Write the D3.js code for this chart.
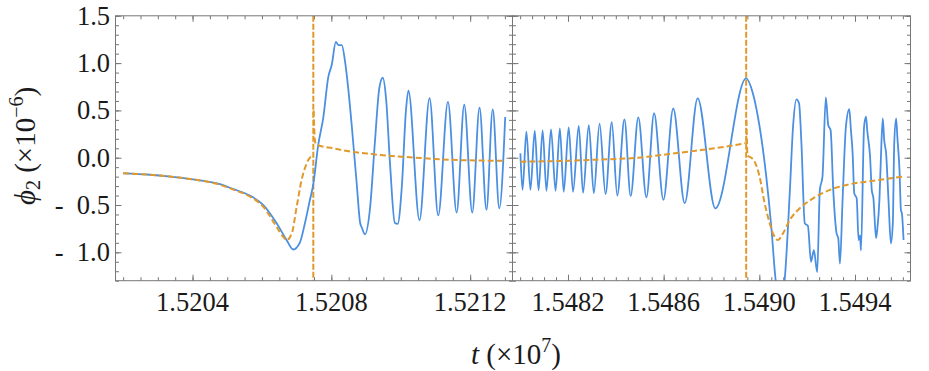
<!DOCTYPE html>
<html>
<head>
<meta charset="utf-8">
<script src="https://cdn.jsdelivr.net/npm/d3@7"></script>
<style>
  body { margin: 0; background: #fff; }
  svg text { font-family: 'Liberation Serif', 'DejaVu Serif', serif; }
</style>
</head>
<body>
<div id="wrapper"></div>
<script>
// time in units of 1e7, phi_2 in units of 1e-6
const blueLeft = [
  [1.520200, -0.165], [1.520277, -0.180], [1.520349, -0.205], [1.520421, -0.240],
  [1.520479, -0.280], [1.520516, -0.330], [1.520565, -0.400], [1.520604, -0.500],
  [1.520642, -0.690], [1.520671, -0.870], [1.520690, -0.970], [1.520709, -0.900],
  [1.520724, -0.690], [1.520738, -0.450], [1.520748, -0.280], [1.520762, 0.130],
  [1.520777, 0.430], [1.520791, 0.850], [1.520801, 0.980], [1.520813, 1.225],
  [1.520820, 1.190], [1.520830, 1.190], [1.520839, 1.030], [1.520849, 0.720],
  [1.520859, 0.330], [1.520873, -0.270], [1.520883, -0.690], [1.520888, -0.740],
  [1.520897, -0.810], [1.520911, -0.550], [1.520926, 0.190], [1.520938, 0.730],
  [1.520948, 0.845], [1.520958, 0.610], [1.520969, -0.060], [1.520983, -0.690],
  [1.520991, -0.700], [1.521003, -0.310], [1.521015, 0.500], [1.521022, 0.710],
  [1.521054, -0.660], [1.521083, 0.630], [1.521108, -0.610], [1.521136, 0.590],
  [1.521161, -0.580], [1.521183, 0.560], [1.521206, -0.580], [1.521227, 0.530],
  [1.521247, -0.550], [1.521265, 0.510], [1.521284, -0.535], [1.521301, 0.430]
]

const orangeLeftPre = [
  [1.520200, -0.165], [1.520277, -0.180], [1.520349, -0.205], [1.520421, -0.240],
  [1.520479, -0.285], [1.520516, -0.335], [1.520565, -0.410], [1.520604, -0.520],
  [1.520642, -0.730], [1.520660, -0.830], [1.520671, -0.870], [1.520686, -0.800],
  [1.520700, -0.520], [1.520714, -0.240], [1.520729, -0.060], [1.520738, 0.000],
  [1.520743, 0.010], [1.520747, 0.010]
]

const orangeLeftPost = [
  [1.520749, 0.500], [1.520753, 0.170], [1.520758, 0.135], [1.520806, 0.100],
  [1.520854, 0.065], [1.520902, 0.045], [1.520950, 0.025], [1.521027, 0.005],
  [1.521142, -0.022], [1.521229, -0.030], [1.521301, -0.033]
]

const blueRight = [
  [1.548001, 0.046], [1.548010, -0.340], [1.548026, 0.275], [1.548043, -0.340],
  [1.548061, 0.285], [1.548077, -0.345], [1.548094, 0.290], [1.548110, -0.350],
  [1.548129, 0.300], [1.548148, -0.350], [1.548166, 0.310], [1.548182, -0.360],
  [1.548203, 0.320], [1.548221, -0.360], [1.548245, 0.335], [1.548263, -0.370],
  [1.548287, 0.345], [1.548308, -0.375], [1.548332, 0.360], [1.548357, -0.385],
  [1.548383, 0.375], [1.548406, -0.400], [1.548436, 0.405], [1.548462, -0.405],
  [1.548494, 0.427], [1.548528, -0.420], [1.548560, 0.470], [1.548599, -0.445],
  [1.548640, 0.520], [1.548688, -0.480], [1.548742, 0.628], [1.548816, -0.535],
  [1.548945, 0.839], [1.548972, 0.690], [1.549001, 0.330], [1.549029, -0.200],
  [1.549050, -0.730], [1.549068, -1.290], [1.549087, -1.550], [1.549106, -1.290],
  [1.549127, -0.380], [1.549141, 0.330], [1.549155, 0.617], [1.549166, 0.575],
  [1.549176, 0.152], [1.549190, -0.694], [1.549203, -0.720], [1.549216, -1.100],
  [1.549228, -0.976], [1.549242, -1.210], [1.549253, -0.340], [1.549264, -0.200],
  [1.549278, 0.638], [1.549288, 0.345], [1.549298, 0.290], [1.549309, -0.340],
  [1.549323, -0.800], [1.549330, -0.850], [1.549337, -1.120], [1.549348, -0.447],
  [1.549362, 0.330], [1.549376, 0.512], [1.549383, 0.290], [1.549390, 0.050],
  [1.549397, -0.377], [1.549407, -0.430], [1.549415, -0.870], [1.549421, -0.820],
  [1.549425, -0.980], [1.549438, 0.330], [1.549446, 0.433], [1.549451, 0.290],
  [1.549463, 0.010], [1.549470, -0.340], [1.549477, -0.430], [1.549488, -0.850],
  [1.549493, -0.760], [1.549502, -0.450], [1.549508, -0.020], [1.549516, 0.416],
  [1.549522, 0.187], [1.549530, 0.046], [1.549540, -0.447], [1.549550, -0.905],
  [1.549558, -0.694], [1.549564, 0.150], [1.549572, 0.416], [1.549577, 0.220],
  [1.549586, -0.130], [1.549592, -0.553], [1.549596, -0.588], [1.549603, -0.870]
]

const orangeRightPre = [
  [1.548001, -0.042], [1.548161, -0.035], [1.548329, -0.020], [1.548494, 0.000],
  [1.548595, 0.030], [1.548735, 0.074], [1.548875, 0.124], [1.548938, 0.152],
  [1.548943, 0.155]
]

const orangeRightPost = [
  [1.548946, 0.400], [1.548951, 0.020], [1.548959, 0.010], [1.548980, -0.040],
  [1.549001, -0.200], [1.549022, -0.480], [1.549043, -0.690], [1.549057, -0.800],
  [1.549078, -0.870], [1.549099, -0.800], [1.549127, -0.660], [1.549169, -0.535],
  [1.549225, -0.430], [1.549295, -0.340], [1.549379, -0.280], [1.549477, -0.243],
  [1.549603, -0.200]
]

const mergerTimes = [1.520748, 1.548945]
const xTicksLeft = [1.5204, 1.5208, 1.5212]
const xTicksRight = [1.5482, 1.5486, 1.549, 1.5494]
const yTicks = [-1.0, -0.5, 0.0, 0.5, 1.0, 1.5]

const blueColor = '#4a8fe2'
const orangeColor = '#e0992a'
const frameColor = '#777777'
const textFont = "'Liberation Serif', 'DejaVu Serif', serif"

function drawChart() {
  const dimensions = {
    width: 929,
    height: 371,
    top: 15.8,
    bottom: 280.7,
    majorTick: 6,
    minorTick: 3.5,
  }

  const panels = [
    { id: 'left', x0: 115.5, x1: 512.5, domain: [1.520178, 1.521322],
      blue: blueLeft, orange: [orangeLeftPre, orangeLeftPost], merger: mergerTimes[0], ticks: xTicksLeft },
    { id: 'right', x0: 512.5, x1: 910.5, domain: [1.547968, 1.549632],
      blue: blueRight, orange: [orangeRightPre, orangeRightPost], merger: mergerTimes[1], ticks: xTicksRight },
  ]

  const svg = d3.select('#wrapper')
    .append('svg')
    .attr('width', dimensions.width)
    .attr('height', dimensions.height)

  const yScale = d3.scaleLinear()
    .domain([-1.3, 1.5])
    .range([dimensions.bottom, dimensions.top])

  const yMinor = d3.range(-13, 16).map((i) => i / 10)

  // strip the domain path and colour the tick lines
  const styleAxis = (g) => {
    g.select('.domain').remove()
    g.selectAll('line').attr('stroke', frameColor).attr('stroke-width', 1)
  }

  panels.forEach((p) => {
    const xScale = d3.scaleLinear().domain(p.domain).range([p.x0, p.x1])
    const xMinor = d3.range(
      Math.ceil(p.domain[0] / 0.00005 - 1e-6),
      Math.floor(p.domain[1] / 0.00005 + 1e-6) + 1
    ).map((i) => i * 0.00005)

    const bounds = svg.append('g').attr('class', 'panel-' + p.id)

    svg.append('clipPath')
      .attr('id', 'clip-' + p.id)
      .append('rect')
      .attr('x', p.x0)
      .attr('y', dimensions.top)
      .attr('width', p.x1 - p.x0)
      .attr('height', dimensions.bottom - dimensions.top)

    // ticks on all four sides, pointing inward
    const tickSets = [
      [xMinor, dimensions.minorTick],
      [p.ticks, dimensions.majorTick],
    ]
    tickSets.forEach(([vals, size]) => {
      bounds.append('g')
        .attr('transform', `translate(0,${dimensions.bottom})`)
        .call(d3.axisBottom(xScale).tickValues(vals).tickSize(-size).tickSizeOuter(0).tickFormat(''))
        .call(styleAxis)
      bounds.append('g')
        .attr('transform', `translate(0,${dimensions.top})`)
        .call(d3.axisTop(xScale).tickValues(vals).tickSize(-size).tickSizeOuter(0).tickFormat(''))
        .call(styleAxis)
    })
    const yTickSets = [
      [yMinor, dimensions.minorTick],
      [yTicks, dimensions.majorTick],
    ]
    yTickSets.forEach(([vals, size]) => {
      bounds.append('g')
        .attr('transform', `translate(${p.x0},0)`)
        .call(d3.axisLeft(yScale).tickValues(vals).tickSize(-size).tickSizeOuter(0).tickFormat(''))
        .call(styleAxis)
      bounds.append('g')
        .attr('transform', `translate(${p.x1},0)`)
        .call(d3.axisRight(yScale).tickValues(vals).tickSize(-size).tickSizeOuter(0).tickFormat(''))
        .call(styleAxis)
    })

    // x tick labels
    bounds.append('g')
      .selectAll('text')
      .data(p.ticks)
      .enter()
      .append('text')
      .attr('x', (d) => xScale(d))
      .attr('y', 311)
      .attr('text-anchor', 'middle')
      .attr('font-family', textFont)
      .attr('font-size', 26.5)
      .attr('fill', '#1a1a1a')
      .text((d) => d.toFixed(4))

    const plot = bounds.append('g').attr('clip-path', `url(#clip-${p.id})`)

    const line = d3.line()
      .x((d) => xScale(d[0]))
      .y((d) => yScale(d[1]))
      .curve(d3.curveMonotoneX)

    // merger marker: dashed vertical line across the panel
    plot.append('line')
      .attr('x1', xScale(p.merger))
      .attr('x2', xScale(p.merger))
      .attr('y1', dimensions.top)
      .attr('y2', dimensions.bottom)
      .attr('stroke', orangeColor)
      .attr('stroke-width', 2)
      .attr('stroke-dasharray', '6,2')

    plot.append('path')
      .datum(p.blue)
      .attr('d', line)
      .attr('fill', 'none')
      .attr('stroke', blueColor)
      .attr('stroke-width', 1.8)
      .attr('stroke-linejoin', 'round')

    p.orange.forEach((seg) => {
      plot.append('path')
        .datum(seg)
        .attr('d', line)
        .attr('fill', 'none')
        .attr('stroke', orangeColor)
        .attr('stroke-width', 2)
        .attr('stroke-dasharray', '6,3')
    })

    // frame
    bounds.append('rect')
      .attr('x', p.x0)
      .attr('y', dimensions.top)
      .attr('width', p.x1 - p.x0)
      .attr('height', dimensions.bottom - dimensions.top)
      .attr('fill', 'none')
      .attr('stroke', frameColor)
      .attr('stroke-width', 1)
  })

  // y tick labels (left panel only)
  svg.append('g')
    .selectAll('text')
    .data(yTicks)
    .enter()
    .append('text')
    .attr('x', 110)
    .attr('y', (d) => yScale(d) + 9)
    .attr('text-anchor', 'end')
    .attr('font-family', textFont)
    .attr('font-size', 26.5)
    .attr('fill', '#1a1a1a')
    .style('white-space', 'pre')
    .text((d) => (d < 0 ? '-  ' + Math.abs(d).toFixed(1) : d.toFixed(1)))

  // y axis title
  const yTitle = svg.append('text')
    .attr('transform', 'translate(35,146) rotate(-90)')
    .attr('text-anchor', 'middle')
    .attr('font-family', textFont)
    .attr('font-size', 29)
    .attr('fill', '#1a1a1a')
  yTitle.append('tspan').attr('font-style', 'italic').text('\u03d5')
  yTitle.append('tspan').attr('font-size', 20).attr('dy', 5).text('2')
  yTitle.append('tspan').attr('dy', -5).text(' (\u00d710')
  yTitle.append('tspan').attr('font-size', 20).attr('dy', -12).text('\u22126')
  yTitle.append('tspan').attr('dy', 12).text(')')

  // x axis title
  const xTitle = svg.append('text')
    .attr('x', 516)
    .attr('y', 364)
    .attr('text-anchor', 'middle')
    .attr('font-family', textFont)
    .attr('font-size', 29)
    .attr('fill', '#1a1a1a')
  xTitle.append('tspan').attr('font-style', 'italic').text('t')
  xTitle.append('tspan').text(' (\u00d710')
  xTitle.append('tspan').attr('font-size', 20).attr('dy', -12).text('7')
  xTitle.append('tspan').attr('dy', 12).text(')')
}

drawChart()
</script>
</body>
</html>
